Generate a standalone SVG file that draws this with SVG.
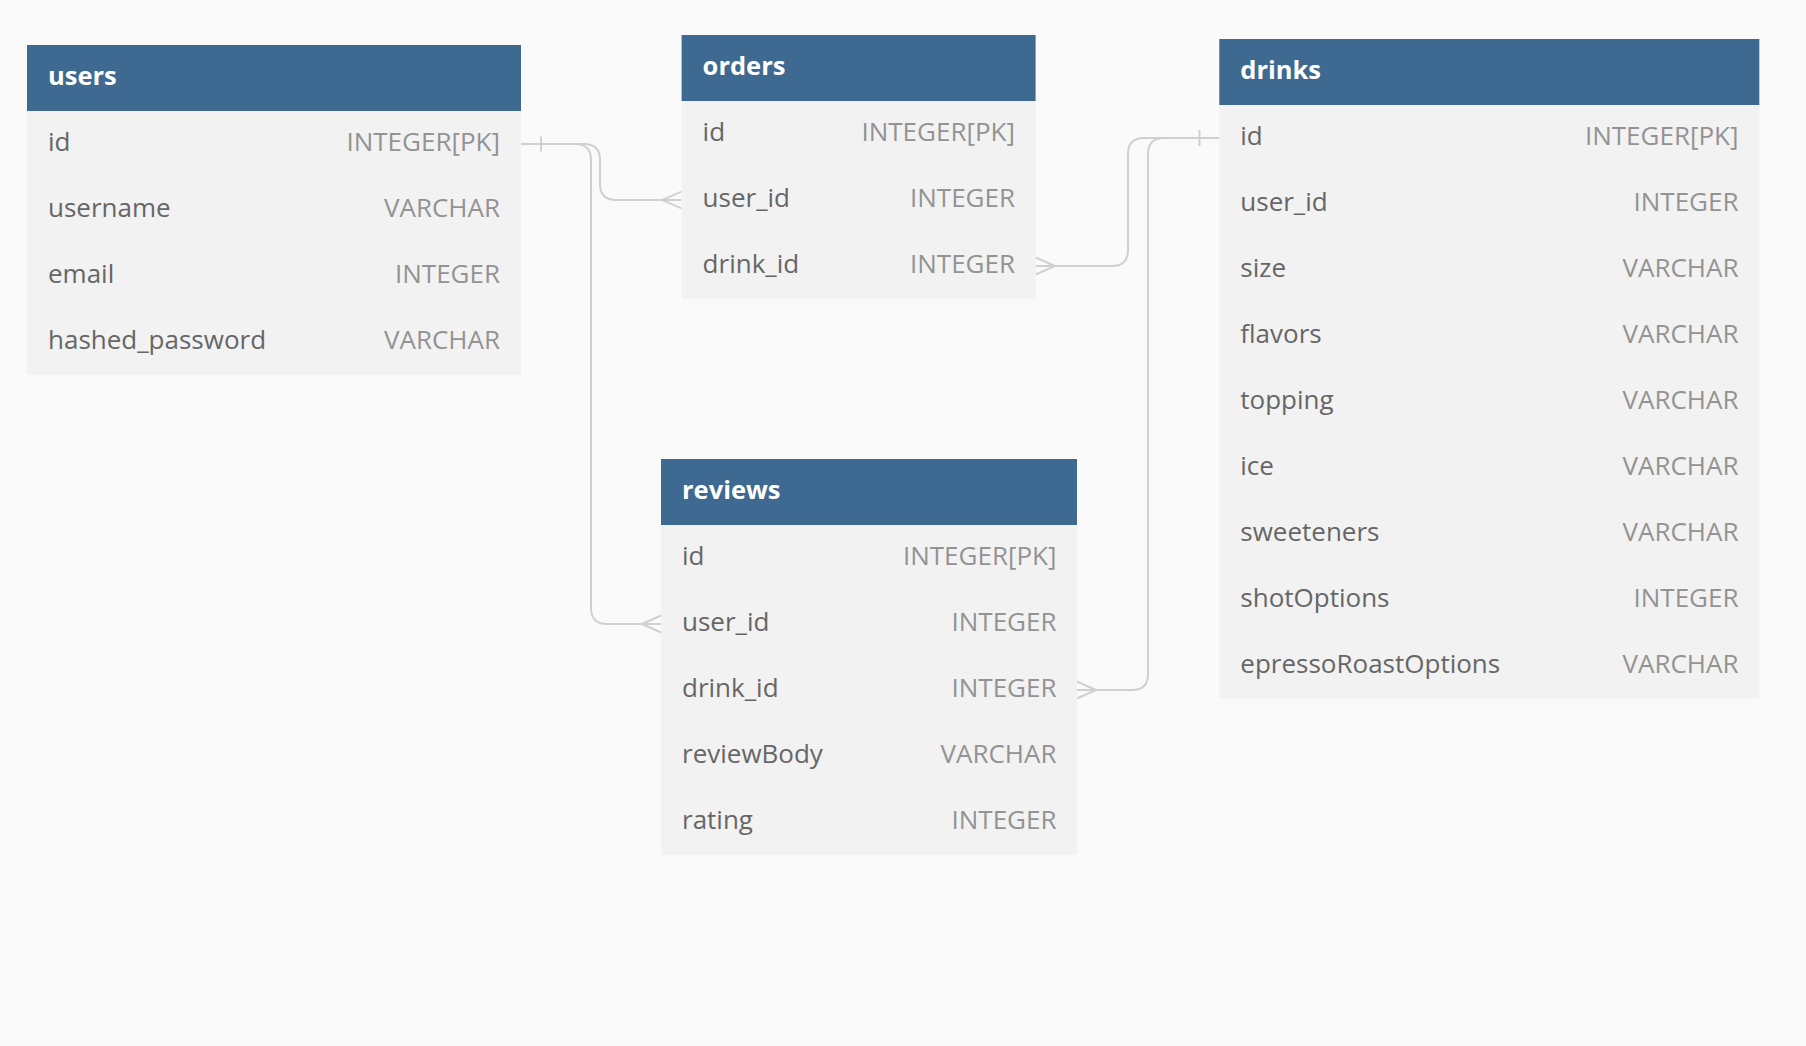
<svg xmlns="http://www.w3.org/2000/svg" width="1806" height="1046" viewBox="0 0 1806 1046">
<style>
.bg{fill:#fafafa}
.hdr{fill:#3e6990}
.body{fill:#f2f2f2}
.title{font-family:"Open Sans","Liberation Sans",sans-serif;font-weight:700;font-size:25.5px;fill:#ffffff}
.name{font-family:"Open Sans","Liberation Sans",sans-serif;font-size:26px;fill:#666666}
.type{font-family:"Open Sans","Liberation Sans",sans-serif;font-size:26px;fill:#939393;text-anchor:end}
.conn{fill:none;stroke:#d0d0d0;stroke-width:2}
</style>
<rect class="bg" x="0" y="0" width="1806" height="1046"/>

<g id="connectors">
  <path class="conn" d="M521,144 H584 Q600,144 600,160 V184 Q600,200 616,200 H681.6"/>
  <path class="conn" d="M681.6,191.7 L662,200 L681.6,208.3"/>
  <path class="conn" d="M521,144 H575 Q591,144 591,160 V608 Q591,624 607,624 H661"/>
  <path class="conn" d="M661,615.5 L642,624 L661,632.5"/>
  <path class="conn" d="M541,136.5 V151.5"/>
  <path class="conn" d="M1219.3,138 H1144 Q1128,138 1128,154 V250 Q1128,266 1112,266 H1035.6"/>
  <path class="conn" d="M1035.6,257.5 L1055,266 L1035.6,274.5"/>
  <path class="conn" d="M1219.3,138 H1164 Q1148,138 1148,154 V674 Q1148,690 1132,690 H1077"/>
  <path class="conn" d="M1077,681.5 L1096,690 L1077,698.5"/>
  <path class="conn" d="M1199.5,130 V146"/>
</g>

<g id="users">
  <rect class="hdr" x="27" y="45" width="494" height="66"/>
  <rect class="body" x="27" y="111" width="494" height="264"/>
  <text class="title" x="48" y="84.5">users</text>
  <text class="name" x="48" y="150.5">id</text><text class="type" x="500" y="150.5">INTEGER[PK]</text>
  <text class="name" x="48" y="216.5">username</text><text class="type" x="500" y="216.5">VARCHAR</text>
  <text class="name" x="48" y="282.5">email</text><text class="type" x="500" y="282.5">INTEGER</text>
  <text class="name" x="48" y="348.5">hashed_password</text><text class="type" x="500" y="348.5">VARCHAR</text>
</g>

<g id="orders">
  <rect class="hdr" x="681.6" y="35" width="354" height="66"/>
  <rect class="body" x="681.6" y="101" width="354" height="198"/>
  <text class="title" x="702.6" y="74.5">orders</text>
  <text class="name" x="702.6" y="140.5">id</text><text class="type" x="1015" y="140.5">INTEGER[PK]</text>
  <text class="name" x="702.6" y="206.5">user_id</text><text class="type" x="1015" y="206.5">INTEGER</text>
  <text class="name" x="702.6" y="272.5">drink_id</text><text class="type" x="1015" y="272.5">INTEGER</text>
</g>

<g id="drinks">
  <rect class="hdr" x="1219.3" y="39" width="540" height="66"/>
  <rect class="body" x="1219.3" y="105" width="540" height="594"/>
  <text class="title" x="1240.3" y="78.5">drinks</text>
  <text class="name" x="1240.3" y="144.5">id</text><text class="type" x="1738.5" y="144.5">INTEGER[PK]</text>
  <text class="name" x="1240.3" y="210.5">user_id</text><text class="type" x="1738.5" y="210.5">INTEGER</text>
  <text class="name" x="1240.3" y="276.5">size</text><text class="type" x="1738.5" y="276.5">VARCHAR</text>
  <text class="name" x="1240.3" y="342.5">flavors</text><text class="type" x="1738.5" y="342.5">VARCHAR</text>
  <text class="name" x="1240.3" y="408.5">topping</text><text class="type" x="1738.5" y="408.5">VARCHAR</text>
  <text class="name" x="1240.3" y="474.5">ice</text><text class="type" x="1738.5" y="474.5">VARCHAR</text>
  <text class="name" x="1240.3" y="540.5">sweeteners</text><text class="type" x="1738.5" y="540.5">VARCHAR</text>
  <text class="name" x="1240.3" y="606.5">shotOptions</text><text class="type" x="1738.5" y="606.5">INTEGER</text>
  <text class="name" x="1240.3" y="672.5">epressoRoastOptions</text><text class="type" x="1738.5" y="672.5">VARCHAR</text>
</g>

<g id="reviews">
  <rect class="hdr" x="661" y="459" width="416" height="66"/>
  <rect class="body" x="661" y="525" width="416" height="330"/>
  <text class="title" x="682" y="498.5">reviews</text>
  <text class="name" x="682" y="564.5">id</text><text class="type" x="1056.5" y="564.5">INTEGER[PK]</text>
  <text class="name" x="682" y="630.5">user_id</text><text class="type" x="1056.5" y="630.5">INTEGER</text>
  <text class="name" x="682" y="696.5">drink_id</text><text class="type" x="1056.5" y="696.5">INTEGER</text>
  <text class="name" x="682" y="762.5">reviewBody</text><text class="type" x="1056.5" y="762.5">VARCHAR</text>
  <text class="name" x="682" y="828.5">rating</text><text class="type" x="1056.5" y="828.5">INTEGER</text>
</g>
</svg>
